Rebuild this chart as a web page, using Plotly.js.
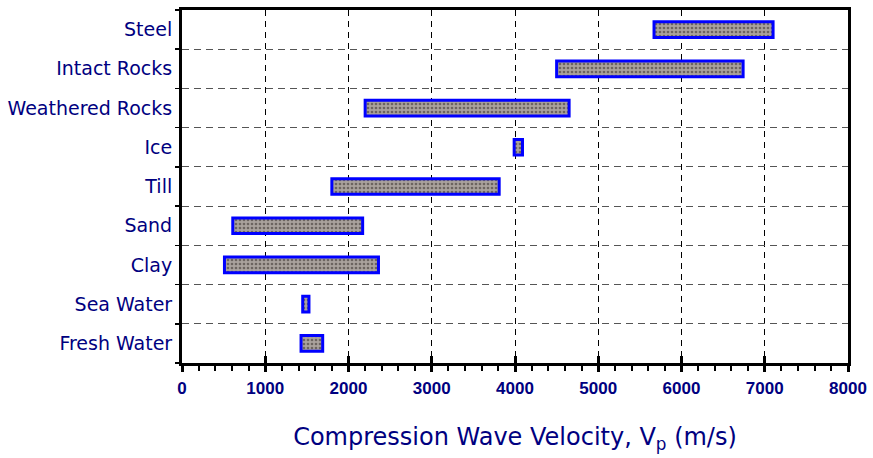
<!DOCTYPE html>
<html>
<head>
<meta charset="utf-8">
<script src="https://cdn.plot.ly/plotly-3.0.1.min.js"></script>
<style>html,body{margin:0;padding:0;background:#fff;}#chart{width:873px;height:458px;}</style>
</head>
<body>
<div id="chart"></div>
<script>
// Data (m/s), top to bottom
const materials = ["Steel", "Intact Rocks", "Weathered Rocks", "Ice", "Till", "Sand", "Clay", "Sea Water", "Fresh Water"];
const vpMin = [5670, 4500, 2200, 3990, 1800, 610, 510, 1450, 1430];
const vpMax = [7100, 6740, 4650, 4090, 3810, 2170, 2360, 1525, 1690];
const xTickVals = [0, 1000, 2000, 3000, 4000, 5000, 6000, 7000, 8000];

const navy = "#000080";
const labelFont = "'Comic Sans MS', 'DejaVu Sans', sans-serif";

const barTrace = {
  type: "bar",
  orientation: "h",
  y: materials,
  base: vpMin,
  x: vpMin.map((v, i) => vpMax[i] - v),
  width: 0.4,
  marker: {
    color: "#a59d98",
    line: {color: "#0000ff", width: 3},
    pattern: {shape: ".", fgcolor: "#6c6460", bgcolor: "#aaa29d", size: 4, solidity: 0.35}
  },
  hoverinfo: "skip",
  showlegend: false
};

// helper trace so the overlay axes (boundary grid / inside ticks) are drawn
const helper = {
  type: "scatter", mode: "markers", x: [0], y: [0], xaxis: "x2", yaxis: "y2",
  marker: {opacity: 0}, hoverinfo: "skip", showlegend: false
};

const bounds = [];
for (let i = 0; i <= materials.length; i++) bounds.push(i - 0.5);

const layout = {
  width: 873, height: 458,
  margin: {l: 182, r: 25, t: 10, b: 95},
  paper_bgcolor: "#fff", plot_bgcolor: "#fff",
  xaxis: {
    range: [0, 8000],
    tickvals: xTickVals,
    ticktext: xTickVals.map(String),
    ticks: "outside", ticklen: 6, tickwidth: 3, tickcolor: "#000",
    minor: {dtick: 200, tick0: 0, ticks: "outside", ticklen: 5, tickwidth: 2, tickcolor: "#000", showgrid: false},
    showgrid: true, gridcolor: "#000", gridwidth: 1, griddash: "6px,5px",
    showline: true, linecolor: "#000", linewidth: 3, mirror: true,
    zeroline: false,
    tickfont: {family: "'Liberation Sans', Arial, sans-serif", size: 17, color: navy, weight: "bold"},
    ticklabelstandoff: 2,
    title: {text: "Compression Wave Velocity, V<sub>p</sub> (m/s)", font: {family: labelFont, size: 24, color: navy}, standoff: 31}
  },
  xaxis2: {
    overlaying: "x", anchor: "y", side: "bottom",
    range: [0, 8000], tickvals: xTickVals, showticklabels: false,
    ticks: "inside", ticklen: 7, tickwidth: 3, tickcolor: "#000",
    showgrid: false, zeroline: false, showline: false
  },
  yaxis: {
    type: "category",
    categoryorder: "array", categoryarray: materials,
    range: [8.5, -0.5],
    ticks: "", showgrid: false, zeroline: false,
    showline: true, linecolor: "#000", linewidth: 3, mirror: true,
    tickfont: {family: labelFont, size: 19, color: navy},
    ticklabelstandoff: 3
  },
  yaxis2: {
    overlaying: "y", anchor: "x", side: "left",
    range: [8.5, -0.5], tickvals: bounds, showticklabels: false,
    ticks: "outside", ticklen: 6, tickwidth: 1.5, tickcolor: "#000",
    showgrid: true, gridcolor: "#555", gridwidth: 1, griddash: "7px,5px",
    zeroline: false, showline: false
  }
};

Plotly.newPlot("chart", [barTrace, helper], layout, {displayModeBar: false, staticPlot: true});
</script>
</body>
</html>
